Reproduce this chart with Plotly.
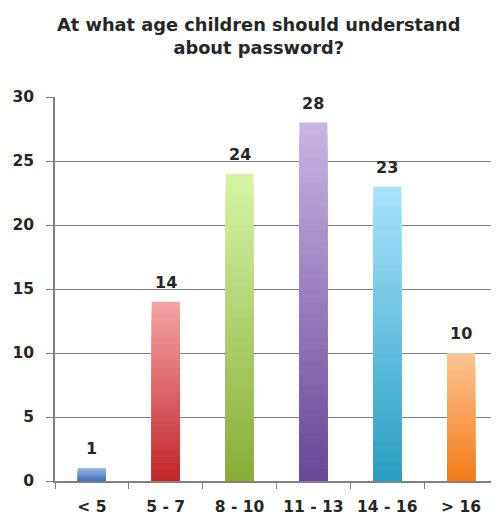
import plotly.graph_objects as go

categories = ["< 5", "5 - 7", "8 - 10", "11 - 13", "14 - 16", "> 16"]
values = [1, 14, 24, 28, 23, 10]
top_colors = ["#93b4e8", "#f4a2a2", "#d6f3a3", "#c6b4e3", "#a6e3fb", "#fdc38f"]
bottom_colors = ["#4a72b6", "#c0282c", "#8aad3a", "#6a4896", "#2a9ec4", "#f47b1a"]
title_text = "At what age children should understand<br>about password?"

FONT = "DejaVu Sans"
TXT = "#262626"
N = 30
# the page body adds an 8px offset, so the figure is sized/margined to compensate
W, H = 491, 511


def hex2rgb(h):
    h = h.lstrip("#")
    return [int(h[i:i + 2], 16) for i in (0, 2, 4)]


def mix(a, b, t):
    ra, rb = hex2rgb(a), hex2rgb(b)
    return "rgb(%d,%d,%d)" % tuple(round(ra[i] + (rb[i] - ra[i]) * t) for i in range(3))


fig = go.Figure()
for k in range(N):
    frac = 1 - k / N
    fig.add_trace(go.Bar(
        x=categories,
        y=[v * frac for v in values],
        width=0.38,
        marker=dict(color=[mix(top_colors[i], bottom_colors[i], k / (N - 1)) for i in range(len(values))],
                    line=dict(width=0)),
        showlegend=False,
        hoverinfo="skip",
    ))

for c, v in zip(categories, values):
    fig.add_annotation(x=c, y=v, text="<b>%d</b>" % v, showarrow=False,
                       yanchor="bottom", yshift=8,
                       font=dict(family=FONT, size=16, color=TXT))

# chart title as a centred two-line annotation above the plot
fig.add_annotation(xref="paper", yref="paper", x=0.46, y=1.158,
                   xanchor="center", yanchor="middle", showarrow=False,
                   text="<b>" + title_text + "</b>",
                   font=dict(family=FONT, size=17.8, color=TXT))

fig.update_layout(
    barmode="overlay",
    width=W, height=H,
    margin=dict(l=47, r=1, t=89, b=38),
    paper_bgcolor="white", plot_bgcolor="white",
    font=dict(family=FONT, color=TXT),
    xaxis=dict(showline=True, linecolor="#808080", linewidth=1.5,
               ticks="outside", ticklen=6, tickcolor="#808080",
               tickson="boundaries", automargin=False,
               ticklabelstandoff=11,
               tickfont=dict(family=FONT, size=15.5, color=TXT, weight="bold")),
    yaxis=dict(range=[0, 30], dtick=5, showline=True, linecolor="#808080", linewidth=1.5,
               ticks="outside", ticklen=7, tickcolor="#808080",
               showgrid=True, gridcolor="#808080", gridwidth=1.2, zeroline=False,
               ticklabelstandoff=9, automargin=False,
               tickfont=dict(family=FONT, size=15.5, color=TXT, weight="bold")),
)

fig.write_html("out.html")
